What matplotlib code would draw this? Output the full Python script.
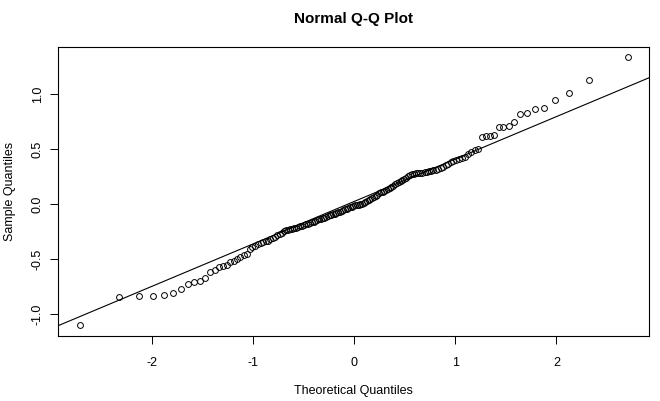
import matplotlib
matplotlib.use("Agg")
import matplotlib.pyplot as plt
import numpy as np
from statistics import NormalDist

plt.rcParams['font.family'] = ['Liberation Sans', 'DejaVu Sans']

# sorted sample values
sample = [
    -1.100, -0.842, -0.840, -0.833, -0.824, -0.805, -0.774, -0.726, -0.711, -0.696,
    -0.674, -0.614, -0.598, -0.577, -0.568, -0.553, -0.531, -0.522, -0.501, -0.486,
    -0.468, -0.452, -0.405, -0.392, -0.379, -0.366, -0.356, -0.348, -0.340, -0.333,
    -0.322, -0.310, -0.298, -0.285, -0.276, -0.266, -0.250, -0.238, -0.234, -0.230,
    -0.226, -0.222, -0.218, -0.213, -0.205, -0.198, -0.190, -0.183, -0.178, -0.172,
    -0.166, -0.160, -0.154, -0.148, -0.141, -0.135, -0.130, -0.126, -0.120, -0.112,
    -0.105, -0.099, -0.093, -0.087, -0.082, -0.076, -0.069, -0.063, -0.056, -0.050,
    -0.044, -0.038, -0.030, -0.024, -0.018, -0.014, -0.010, -0.007, -0.004, 0.002,
    0.010, 0.018, 0.027, 0.036, 0.045, 0.055, 0.064, 0.074, 0.083, 0.095,
    0.104, 0.112, 0.120, 0.128, 0.135, 0.145, 0.155, 0.166, 0.178, 0.190,
    0.197, 0.204, 0.214, 0.226, 0.238, 0.250, 0.260, 0.268, 0.274, 0.278,
    0.280, 0.281, 0.283, 0.286, 0.291, 0.297, 0.302, 0.306, 0.311, 0.316,
    0.328, 0.340, 0.352, 0.366, 0.378, 0.388, 0.398, 0.408, 0.415, 0.422,
    0.452, 0.473, 0.489, 0.498, 0.605, 0.614, 0.619, 0.628, 0.696, 0.702,
    0.705, 0.742, 0.817, 0.824, 0.863, 0.868, 0.940, 1.006, 1.125, 1.331,
]
x_ticks = [-2, -1, 0, 1, 2]
y_ticks = [-1.0, -0.5, 0.0, 0.5, 1.0]
y_tick_labels = ["-1.0", "-0.5", "0.0", "0.5", "1.0"]


def theoretical(n):
    # same plotting positions as R's ppoints()
    a = 0.375 if n <= 10 else 0.5
    nd = NormalDist()
    return np.array([nd.inv_cdf((i + 1 - a) / (n + 1 - 2 * a)) for i in range(n)])


y = np.sort(np.array(sample))
x = theoretical(len(y))

# qqline through the quartiles
q1, q3 = np.quantile(y, [0.25, 0.75])
nd = NormalDist()
t1, t3 = nd.inv_cdf(0.25), nd.inv_cdf(0.75)
slope = (q3 - q1) / (t3 - t1)
intercept = q1 - slope * t1

fig = plt.figure(figsize=(6.6, 4.01), dpi=100)
ax = fig.add_axes([0.0883, 0.1628, 0.8955, 0.7207])

ax.plot(x, y, linestyle="none", marker="o", markersize=4.2,
        markerfacecolor="none", markeredgecolor="black", markeredgewidth=0.7)
ax.axline((0, intercept), slope=slope, color="black", linewidth=0.8)

ax.set_xlim(-2.93, 2.92)
yr = y.max() - y.min()
ax.set_ylim(y.min() - 0.04 * yr, y.max() + 0.04 * yr)

ax.set_xticks(x_ticks)
ax.set_xticklabels([str(t) for t in x_ticks])
ax.set_yticks(y_ticks)
ax.set_yticklabels(y_tick_labels, rotation=90, va="center")
ax.tick_params(length=5.5, width=0.7, labelsize=9, pad=10)
ax.tick_params(axis="y", pad=5)
for s in ax.spines.values():
    s.set_linewidth(0.8)

ax.set_xlabel("Theoretical Quantiles", fontsize=9, labelpad=11)
ax.set_ylabel("Sample Quantiles", fontsize=9, labelpad=11)
fig.text(0.536, 0.953, "Normal Q-Q Plot", ha="center", va="center",
         fontsize=11, fontweight="bold")

fig.savefig("out.png", dpi=100)
